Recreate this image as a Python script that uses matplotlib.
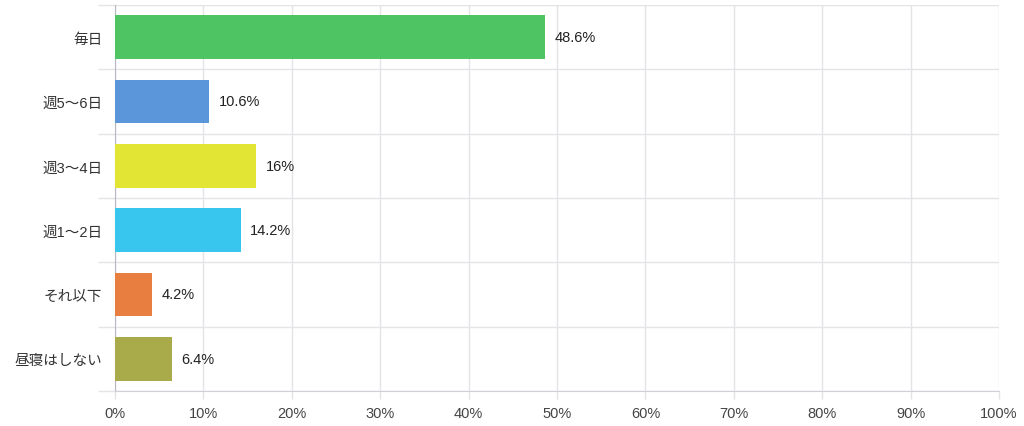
import matplotlib
matplotlib.use("Agg")
import matplotlib.pyplot as plt
import numpy as np

plt.rcParams['font.family'] = ['Liberation Sans', 'Noto Sans CJK JP', 'DejaVu Sans']

categories = ["毎日", "週5〜6日", "週3〜4日", "週1〜2日", "それ以下", "昼寝はしない"]
values = [48.6, 10.6, 16, 14.2, 4.2, 6.4]
value_labels = ["48.6%", "10.6%", "16%", "14.2%", "4.2%", "6.4%"]
colors = ["#4fc462", "#5b96da", "#e2e534", "#38c6ef", "#e87e40", "#a9ab4a"]
xticks = [0, 10, 20, 30, 40, 50, 60, 70, 80, 90, 100]
xtick_labels = [str(t) + "%" for t in xticks]

fig = plt.figure(figsize=(10.24, 4.27), dpi=100)
ax = fig.add_axes([115 / 1024, 1 - 392 / 427, 884 / 1024, 386 / 427])

y = np.arange(len(categories))
ax.barh(y, values, height=0.68, color=colors, zorder=3)
for yi, v, lab in zip(y, values, value_labels):
    ax.text(v + 1.1, yi, lab, va="center", ha="left", fontsize=10.5, color="#222222", zorder=4)

ax.set_xlim(0, 100)
ax.set_ylim(len(categories) - 0.5, -0.5)

ax.set_xticks(xticks)
ax.set_xticklabels(xtick_labels, fontsize=10.5, color="#444444")
ax.set_yticks(y)
ax.set_yticklabels(categories, fontsize=10.5, color="#333333")
ax.set_yticks(np.arange(len(categories) + 1) - 0.5, minor=True)

ax.grid(axis="x", color="#e3e3e8", linewidth=1, zorder=0)
ax.grid(axis="y", which="minor", color="#e3e3e8", linewidth=1, zorder=0)
ax.tick_params(axis="y", which="major", length=0, pad=9)
ax.tick_params(axis="y", which="minor", length=12, color="#e3e3e8", width=1)
ax.tick_params(axis="x", length=6, color="#e3e3e8", width=1, pad=5)

for side in ["top", "right"]:
    ax.spines[side].set_visible(False)
ax.spines["left"].set_color("#b8b8c0")
ax.spines["bottom"].set_color("#d0d0d6")

fig.savefig("out.png", dpi=100)
